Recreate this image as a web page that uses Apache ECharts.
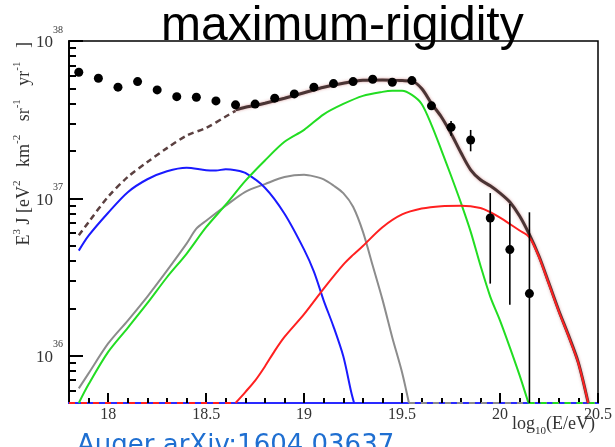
<!DOCTYPE html>
<html><head><meta charset="utf-8">
<script src="https://cdn.jsdelivr.net/npm/echarts@6/dist/echarts.min.js"></script>
<style>html,body{margin:0;padding:0;background:#fff}#c{width:615px;height:447px}</style>
</head><body><div id="c"></div>
<script>
// ---- axis ticks ----
const xMajorTicks = [18, 18.5, 19, 19.5, 20, 20.5];
const xMinorTicks = [17.9, 18.1, 18.2, 18.3, 18.4, 18.6, 18.7, 18.8, 18.9, 19.1, 19.2, 19.3, 19.4, 19.6, 19.7, 19.8, 19.9, 20.1, 20.2, 20.3, 20.4];
const yMajorTicks = [1e36, 1e37, 1e38];
const yMinorTicks = [6e35, 7e35, 8e35, 9e35, 2e36, 3e36, 4e36, 5e36, 6e36, 7e36, 8e36, 9e36, 2e37, 3e37, 4e37, 5e37, 6e37, 7e37, 8e37, 9e37];
const xMin = 17.8, xMax = 20.5, yMin = 5e35, yMax = 1e38;

// ---- Auger data points ----
const dataX = [17.85, 17.95, 18.05, 18.15, 18.25, 18.35, 18.45, 18.55, 18.65, 18.75, 18.85, 18.95, 19.05, 19.15, 19.25, 19.35, 19.45, 19.55, 19.65, 19.75, 19.85, 19.95, 20.05, 20.15];
const dataY = [6.33e37, 5.80e37, 5.09e37, 5.52e37, 4.89e37, 4.43e37, 4.39e37, 4.16e37, 3.93e37, 3.97e37, 4.33e37, 4.61e37, 5.09e37, 5.36e37, 5.52e37, 5.71e37, 5.47e37, 5.60e37, 3.87e37, 2.83e37, 2.35e37, 7.5e36, 4.72e36, 2.48e36];
const errX  = [19.75, 19.85, 19.95, 20.05, 20.15];
const errLo = [2.5e37, 1.99e37, 2.87e36, 2.11e36, 5e35];
const errHi = [3.1e37, 2.72e37, 1.08e37, 9.2e36, 8.15e36];

// ---- model components ----
const blueX = [17.85, 17.9, 18.0, 18.1, 18.2, 18.3, 18.4, 18.5, 18.55, 18.6, 18.65, 18.7, 18.8, 18.9, 19.0, 19.05, 19.1, 19.15, 19.2, 19.24, 19.255];
const blueY = [4.65e36, 5.79e36, 8.10e36, 1.094e37, 1.322e37, 1.486e37, 1.564e37, 1.508e37, 1.503e37, 1.530e37, 1.508e37, 1.450e37, 1.168e37, 7.98e36, 4.72e36, 3.42e36, 2.24e36, 1.53e36, 9.9e35, 5.9e35, 5e35];

const grayX = [17.85, 17.9, 18.0, 18.1, 18.2, 18.3, 18.4, 18.45, 18.5, 18.6, 18.7, 18.8, 18.9, 19.0, 19.05, 19.1, 19.15, 19.2, 19.25, 19.3, 19.35, 19.4, 19.45, 19.5, 19.535];
const grayY = [6.19e35, 7.71e35, 1.195e36, 1.672e36, 2.375e36, 3.47e36, 5.15e36, 6.41e36, 7.21e36, 8.97e36, 1.10e37, 1.232e37, 1.365e37, 1.411e37, 1.379e37, 1.320e37, 1.206e37, 1.079e37, 8.84e36, 6.14e36, 3.74e36, 2.27e36, 1.305e36, 7.82e35, 5e35];

const greenX = [17.85, 17.9, 18.0, 18.1, 18.2, 18.3, 18.4, 18.5, 18.6, 18.7, 18.8, 18.9, 19.0, 19.1, 19.2, 19.3, 19.4, 19.45, 19.5, 19.55, 19.6, 19.65, 19.7, 19.75, 19.8, 19.85, 19.9, 19.95, 20.0, 20.05, 20.1, 20.145];
const greenY = [5e35, 6.57e35, 1.056e36, 1.503e36, 2.154e36, 3.15e36, 4.44e36, 6.55e36, 9.11e36, 1.29e37, 1.74e37, 2.286e37, 2.724e37, 3.42e37, 3.98e37, 4.48e37, 4.75e37, 4.82e37, 4.82e37, 4.54e37, 3.98e37, 2.93e37, 2.034e37, 1.391e37, 9.38e36, 6.14e36, 3.74e36, 2.375e36, 1.672e36, 1.13e36, 7.49e35, 5e35];

const redX = [18.65, 18.7, 18.75, 18.8, 18.85, 18.9, 19.0, 19.1, 19.2, 19.25, 19.3, 19.4, 19.5, 19.6, 19.7, 19.8, 19.9, 19.95, 20.0, 20.05, 20.1, 20.15, 20.2, 20.25, 20.3, 20.35, 20.4, 20.45];
const redY = [5e35, 5.87e35, 6.94e35, 8.54e35, 1.073e36, 1.316e36, 1.837e36, 2.67e36, 3.79e36, 4.37e36, 4.98e36, 6.55e36, 7.90e36, 8.61e36, 8.92e36, 8.97e36, 8.69e36, 8.16e36, 7.53e36, 6.87e36, 6.24e36, 5.65e36, 4.20e36, 2.84e36, 1.908e36, 1.324e36, 8.92e35, 5e35];

const totalExtrapX = [17.85, 17.9, 18.0, 18.1, 18.2, 18.3, 18.4, 18.5, 18.6, 18.65];
const totalExtrapY = [5.82e36, 7.06e36, 1.024e37, 1.367e37, 1.70e37, 2.085e37, 2.503e37, 2.805e37, 3.31e37, 3.60e37];

const totalX = [18.65, 18.7, 18.75, 18.8, 18.9, 19.0, 19.1, 19.2, 19.3, 19.4, 19.5, 19.55, 19.6, 19.65, 19.7, 19.75, 19.8, 19.85, 19.9, 19.95, 20.0, 20.05, 20.1, 20.15, 20.2, 20.25, 20.3, 20.35, 20.4, 20.45];
const totalY = [3.65e37, 3.79e37, 3.89e37, 4.02e37, 4.33e37, 4.69e37, 5.08e37, 5.39e37, 5.63e37, 5.66e37, 5.60e37, 5.56e37, 4.99e37, 4.01e37, 3.30e37, 2.58e37, 1.955e37, 1.519e37, 1.312e37, 1.202e37, 1.079e37, 9.47e36, 7.71e36, 5.87e36, 4.25e36, 2.87e36, 1.93e36, 1.34e36, 9.0e35, 5e35];

// components below the plotted range, drawn on the frame floor
const redFloorX = [17.8, 18.65];
const grayFloorX = [19.535, 20.5];
const greenFloorX = [20.145, 20.5];

const zip = (xs, ys) => xs.map((x, i) => [x, ys[i]]);
const onFloor = xs => xs.map(x => [x, yMin]);

const serif = '"Liberation Serif", "DejaVu Serif", serif';
const chart = echarts.init(document.getElementById('c'), null, {renderer: 'canvas'});

function curve(data, color, width, extra) {
  return Object.assign({
    type: 'line', data: data, showSymbol: false, symbol: 'none', smooth: 0.3, clip: false,
    lineStyle: {color: color, width: width}
  }, extra || {});
}

const errorBars = errX.map((x, i) => ({
  type: 'line', data: [[x, errLo[i]], [x, errHi[i]]], showSymbol: false, symbol: 'none', clip: false,
  lineStyle: {color: '#000', width: 1.6}
}));

chart.setOption({
  animation: false,
  title: [
    {text: 'maximum-rigidity', left: 161, top: 3, padding: 0,
     textStyle: {fontFamily: '"Liberation Sans", Arial, sans-serif', fontSize: 48, fontWeight: 'normal', color: '#000'}},
    {text: 'Auger arXiv:1604.03637', left: 77, top: 433, padding: 0,
     textStyle: {fontFamily: '"DejaVu Sans", sans-serif', fontSize: 26, fontWeight: 'normal', color: '#1f6fd1'}}
  ],
  grid: {left: 69, right: 14, top: 41, bottom: 44, show: true, borderColor: '#000', borderWidth: 1.5},
  xAxis: [
    {type: 'value', min: xMin, max: xMax, position: 'bottom', offset: 0,
     axisLine: {show: true, onZero: false, lineStyle: {color: '#2a2aff', width: 2}},
     axisTick: {show: true, inside: true, length: 10, customValues: xMajorTicks, lineStyle: {color: '#000', width: 2}},
     axisLabel: {show: true, customValues: xMajorTicks, margin: 4, fontFamily: serif, fontSize: 16, color: '#333', formatter: v => String(v)},
     splitLine: {show: false},
     name: '{m|log}{s|10}{m|(E/eV)}', nameLocation: 'end', nameGap: -3, nameMoveOverlap: false,
     nameTextStyle: {align: 'right', verticalAlign: 'top', padding: [9, 0, 0, 0],
       rich: {m: {fontFamily: serif, fontSize: 18, color: '#333'},
              s: {fontFamily: serif, fontSize: 11, color: '#333', padding: [14, 0, 0, 0]}}}},
    {type: 'value', min: xMin, max: xMax, position: 'bottom', offset: 0,
     axisLine: {show: true, onZero: false, lineStyle: {color: '#2a2aff', width: 2}},
     axisTick: {show: true, inside: true, length: 5, customValues: xMinorTicks, lineStyle: {color: '#000', width: 2}},
     axisLabel: {show: false}, splitLine: {show: false}}
  ],
  yAxis: [
    {type: 'log', logBase: 10, min: yMin, max: yMax, position: 'left', offset: 0,
     axisLine: {show: true, lineStyle: {color: '#000', width: 1.5}},
     axisTick: {show: true, inside: true, length: 14, customValues: yMajorTicks, lineStyle: {color: '#000', width: 2}},
     axisLabel: {show: true, customValues: yMajorTicks, margin: 6,
       formatter: v => '{a|10}{b|' + Math.round(Math.log10(v)) + '}',
       rich: {a: {fontFamily: serif, fontSize: 17, color: '#333', padding: [4, 0, 0, 0]},
              b: {fontFamily: serif, fontSize: 10, color: '#333', padding: [0, 0, 22, 0]}}},
     splitLine: {show: false},
     name: '{m|E}{s|3}{m| J [eV}{s|2}{m|   km}{s|-2}{m|   sr}{s|-1}{m|   yr}{s|-1}{m|   ]}',
     nameLocation: 'end', nameRotate: 90, nameGap: -1, nameMoveOverlap: false,
     nameTextStyle: {align: 'right', verticalAlign: 'middle', padding: [0, 0, 90, 0],
       rich: {m: {fontFamily: serif, fontSize: 18, color: '#333'},
              s: {fontFamily: serif, fontSize: 11, color: '#333', padding: [0, 0, 14, 0]}}}},
    {type: 'log', logBase: 10, min: yMin, max: yMax, position: 'left', offset: 0,
     axisLine: {show: true, lineStyle: {color: '#000', width: 1.5}},
     axisTick: {show: true, inside: true, length: 7, customValues: yMinorTicks, lineStyle: {color: '#000', width: 2}},
     axisLabel: {show: false}, splitLine: {show: false}}
  ],
  series: [
    curve(onFloor(grayFloorX), '#8c8c8c', 2, {smooth: false, lineStyle: {color: '#8c8c8c', width: 2, type: [6, 6]}}),
    curve(onFloor(greenFloorX), '#22dd22', 2, {smooth: false, lineStyle: {color: '#22dd22', width: 2, type: [6, 6]}}),
    curve(onFloor(redFloorX), '#ff2020', 2, {smooth: false, lineStyle: {color: '#ff2020', width: 2, type: [6, 6]}}),
    curve(zip(grayX, grayY), '#8c8c8c', 2),
    curve(zip(blueX, blueY), '#1a1aff', 2),
    curve(zip(greenX, greenY), '#22dd22', 2),
    curve(zip(totalExtrapX, totalExtrapY), '#5b4040', 2.5, {lineStyle: {color: '#5b4040', width: 2.5, type: [6, 4]}}),
    curve(zip(totalX, totalY), '#4a3434', 3, {lineStyle: {color: '#4a3434', width: 3, shadowColor: 'rgba(200,120,120,0.7)', shadowBlur: 3}}),
    curve(zip(redX, redY), '#ff2020', 2)
  ].concat(errorBars).concat([
    {type: 'scatter', data: zip(dataX, dataY), symbol: 'circle', symbolSize: 9, itemStyle: {color: '#000', opacity: 1}, clip: false, z: 5}
  ])
});
</script>
</body></html>
